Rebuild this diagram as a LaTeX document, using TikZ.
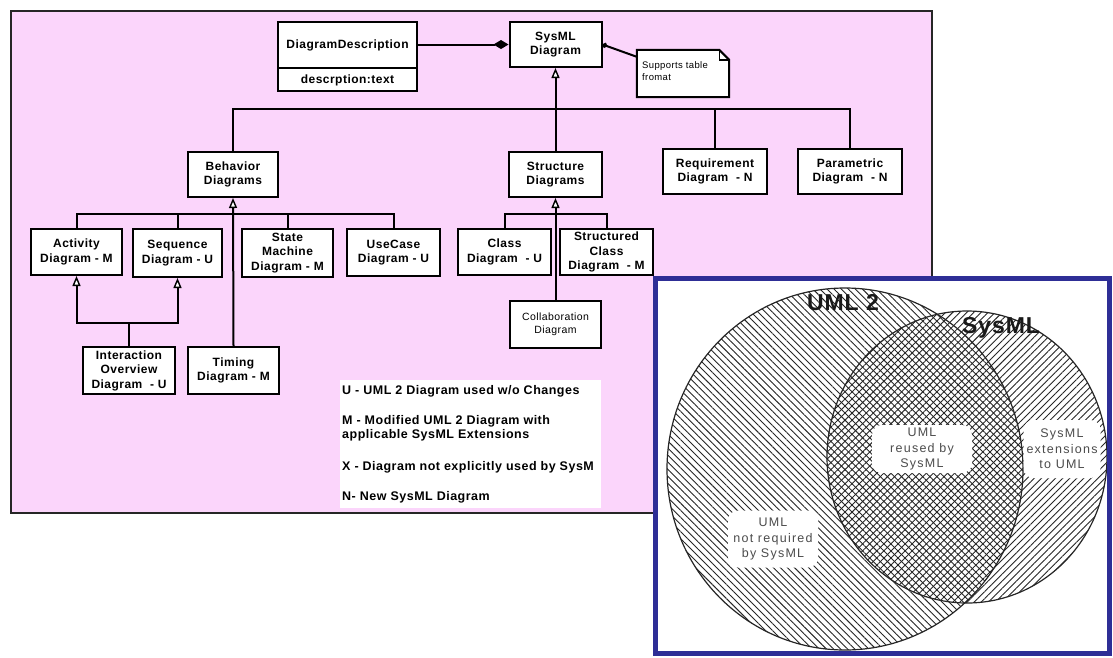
\documentclass[tikz,border=0pt]{standalone}
\usepackage{fontspec}
\setmainfont{Liberation Sans}
\newfontfamily\spacedsans{Liberation Sans}[LetterSpace=4]
\newfontfamily\widesans{Liberation Sans}[LetterSpace=10]
\usetikzlibrary{arrows.meta,patterns.meta}

\definecolor{framepink}{RGB}{251,213,251}
\definecolor{panelblue}{RGB}{46,46,150}

\newcommand\umlboxfont{\spacedsans\fontsize{12}{14.5}\selectfont\bfseries}
\newcommand\umlplainfont{\spacedsans\fontsize{10.5}{12.5}\selectfont}
\newcommand\legendfont{\spacedsans\fontsize{12.5}{14.5}\selectfont\bfseries}
\newcommand\vennfont{\widesans\fontsize{12.5}{15.5}\selectfont}
\newcommand\venntitlefont{\spacedsans\fontsize{23}{26}\selectfont\bfseries}

\tikzset{
  umlbox/.style={draw=black, line width=2pt, fill=white, align=center,
    inner sep=0pt, font=\umlboxfont},
  plainbox/.style={umlbox, font=\umlplainfont},
  link/.style={line width=2pt, draw=black},
  gen/.style={link, -{Triangle[length=10pt, width=8pt, fill=white, line width=1.4pt]}},
  comp/.style={link, -{Diamond[length=15pt, width=9pt]}},
  anchorlink/.style={link, {Circle[length=5pt]}-},
  legend/.style={anchor=west, align=left, inner sep=0pt, font=\legendfont},
  hatch/.style={pattern={Lines[angle=#1, distance=5pt, line width=0.9pt]},
    pattern color=black!85},
  vennlabel/.style={fill=white, rounded corners=10pt, align=center,
    inner sep=0pt, text=black!70, font=\vennfont},
  venntitle/.style={inner sep=0pt, text=black!90, font=\venntitlefont},
}

\begin{document}
\begin{tikzpicture}[x=1pt,y=-1pt]
\useasboundingbox (0,0) rectangle (1113,657);
\fill[white] (0,0) rectangle (1113,657);

% ---------- diagram taxonomy frame ----------
\draw[fill=framepink, draw=black!85, line width=2.6pt] (11,11) rectangle (932,513);

% top level
\node[umlbox, minimum width=139, minimum height=69] (desc) at (347.5,56.5) {};
\coordinate (dsplit) at (0,68);
\draw[line width=2pt] (desc.west |- dsplit) -- (desc.east |- dsplit);
\node[inner sep=0pt, font=\umlboxfont] (descname) at (347.5,45) {DiagramDescription};
\node[inner sep=0pt, font=\umlboxfont] (descattr) at (347.5,80) {descrption:text};

\node[umlbox, minimum width=92, minimum height=45] (sysml) at (555.5,44.5) {SysML\\Diagram};

% note
\node[minimum width=92, minimum height=47, inner sep=0pt] (note) at (683,73.5) {};
\draw[line width=2pt, fill=white]
  (note.north west) -- ([xshift=-10pt]note.north east) -- ([yshift=-10pt]note.north east)
  -- (note.south east) -- (note.south west) -- cycle;
\draw[line width=1.4pt] ([xshift=-10pt]note.north east) -- ([xshift=-10pt,yshift=-10pt]note.north east)
  -- ([yshift=-10pt]note.north east);
\node[anchor=north west, align=left, inner sep=0pt, font=\spacedsans\fontsize{9.5}{12}\selectfont]
  (notetext) at (642,61) {Supports table\\fromat};

% second level
\node[umlbox, minimum width=90, minimum height=45] (behav) at (233,174.5) {Behavior\\Diagrams};
\node[umlbox, minimum width=93, minimum height=45] (struct) at (555.5,174.5) {Structure\\Diagrams};
\node[umlbox, minimum width=104, minimum height=45] (req) at (715,171.5) {Requirement\\Diagram \ - N};
\node[umlbox, minimum width=104, minimum height=45] (param) at (850,171.5) {Parametric\\Diagram \ - N};

% third level
\node[umlbox, minimum width=91, minimum height=46] (act) at (76.5,252) {Activity\\Diagram - M};
\node[umlbox, minimum width=89, minimum height=48] (seq) at (177.5,253) {Sequence\\Diagram - U};
\node[umlbox, minimum width=91, minimum height=48] (state) at (287.5,253) {State\\Machine\\Diagram - M};
\node[umlbox, minimum width=93, minimum height=47] (usecase) at (393.5,252.5) {UseCase\\Diagram - U};
\node[umlbox, minimum width=93, minimum height=46] (class) at (504.5,252) {Class\\Diagram \ - U};
\node[umlbox, minimum width=93, minimum height=46] (sclass) at (606.5,252) {Structured\\Class\\Diagram \ - M};

% fourth level
\node[plainbox, minimum width=91, minimum height=47] (collab) at (555.5,324.5) {Collaboration\\Diagram};
\node[umlbox, minimum width=92, minimum height=47] (inter) at (129,370.5) {Interaction\\Overview\\Diagram \ - U};
\node[umlbox, minimum width=91, minimum height=47] (timing) at (233.5,370.5) {Timing\\Diagram - M};

% connectors
\draw[comp] (desc.east |- sysml.west) -- (sysml.west);
\draw[anchorlink] (sysml.east) -- ([yshift=-7pt]note.north west);

\coordinate (tj) at (555.5,109);
\draw[gen] (tj) -- (sysml.south);
\draw[link] (struct.north) -- (tj);
\draw[link] (behav.north) -- (behav.north |- tj) -- (param.north |- tj) -- (param.north);
\draw[link] (req.north) -- (req.north |- tj);

\coordinate (bj) at (233,214);
\draw[gen] (timing.north) -- (behav.south);
\draw[link] (act.north) -- (act.north |- bj) -- (usecase.north |- bj) -- (usecase.north);
\draw[link] (seq.north) -- (seq.north |- bj);
\draw[link] (state.north) -- (state.north |- bj);

\coordinate (sj) at (555.5,214);
\draw[gen] (collab.north) -- (struct.south);
\draw[link] (class.north) -- (class.north |- sj) -- (sclass.north |- sj) -- (sclass.north);

\coordinate (ij) at (129,323);
\draw[gen] (inter.north) -- (ij) -- (act.south |- ij) -- (act.south);
\draw[gen] (ij) -- (seq.south |- ij) -- (seq.south);

% legend
\fill[white] (340,380) rectangle (601,508);
\node[legend] (legu) at (342,391) {U - UML 2 Diagram used w/o Changes};
\node[legend] (legm) at (342,428.5) {M - Modified UML 2 Diagram with\\applicable SysML Extensions};
\node[legend] (legx) at (342,467) {X - Diagram not explicitly used by SysM};
\node[legend] (legn) at (342,497) {N- New SysML Diagram};

% ---------- UML 2 / SysML overlap panel ----------
\fill[white] (655,278) rectangle (1109,653);
\pattern[hatch=-45] (845,469) ellipse [x radius=178, y radius=181];
\pattern[hatch=45] (967,457) ellipse [x radius=140, y radius=146];
\draw[black!85, line width=1.2pt] (845,469) ellipse [x radius=178, y radius=181];
\draw[black!85, line width=1.2pt] (967,457) ellipse [x radius=140, y radius=146];

\node[vennlabel, minimum width=100, minimum height=48] (reused) at (922,449) {UML\\reused by\\SysML};
\node[vennlabel, minimum width=77, minimum height=58] (ext) at (1062,449) {SysML\\extensions\\to UML};
\node[vennlabel, minimum width=90, minimum height=57] (notreq) at (773,539) {UML\\not required\\by SysML};
\node[venntitle] (umltitle) at (843,303) {UML 2};
\node[venntitle] (sysmltitle) at (1001,328) {SysML};

\draw[panelblue, line width=5pt] (655,278) rectangle (1109,653);
\end{tikzpicture}
\end{document}
